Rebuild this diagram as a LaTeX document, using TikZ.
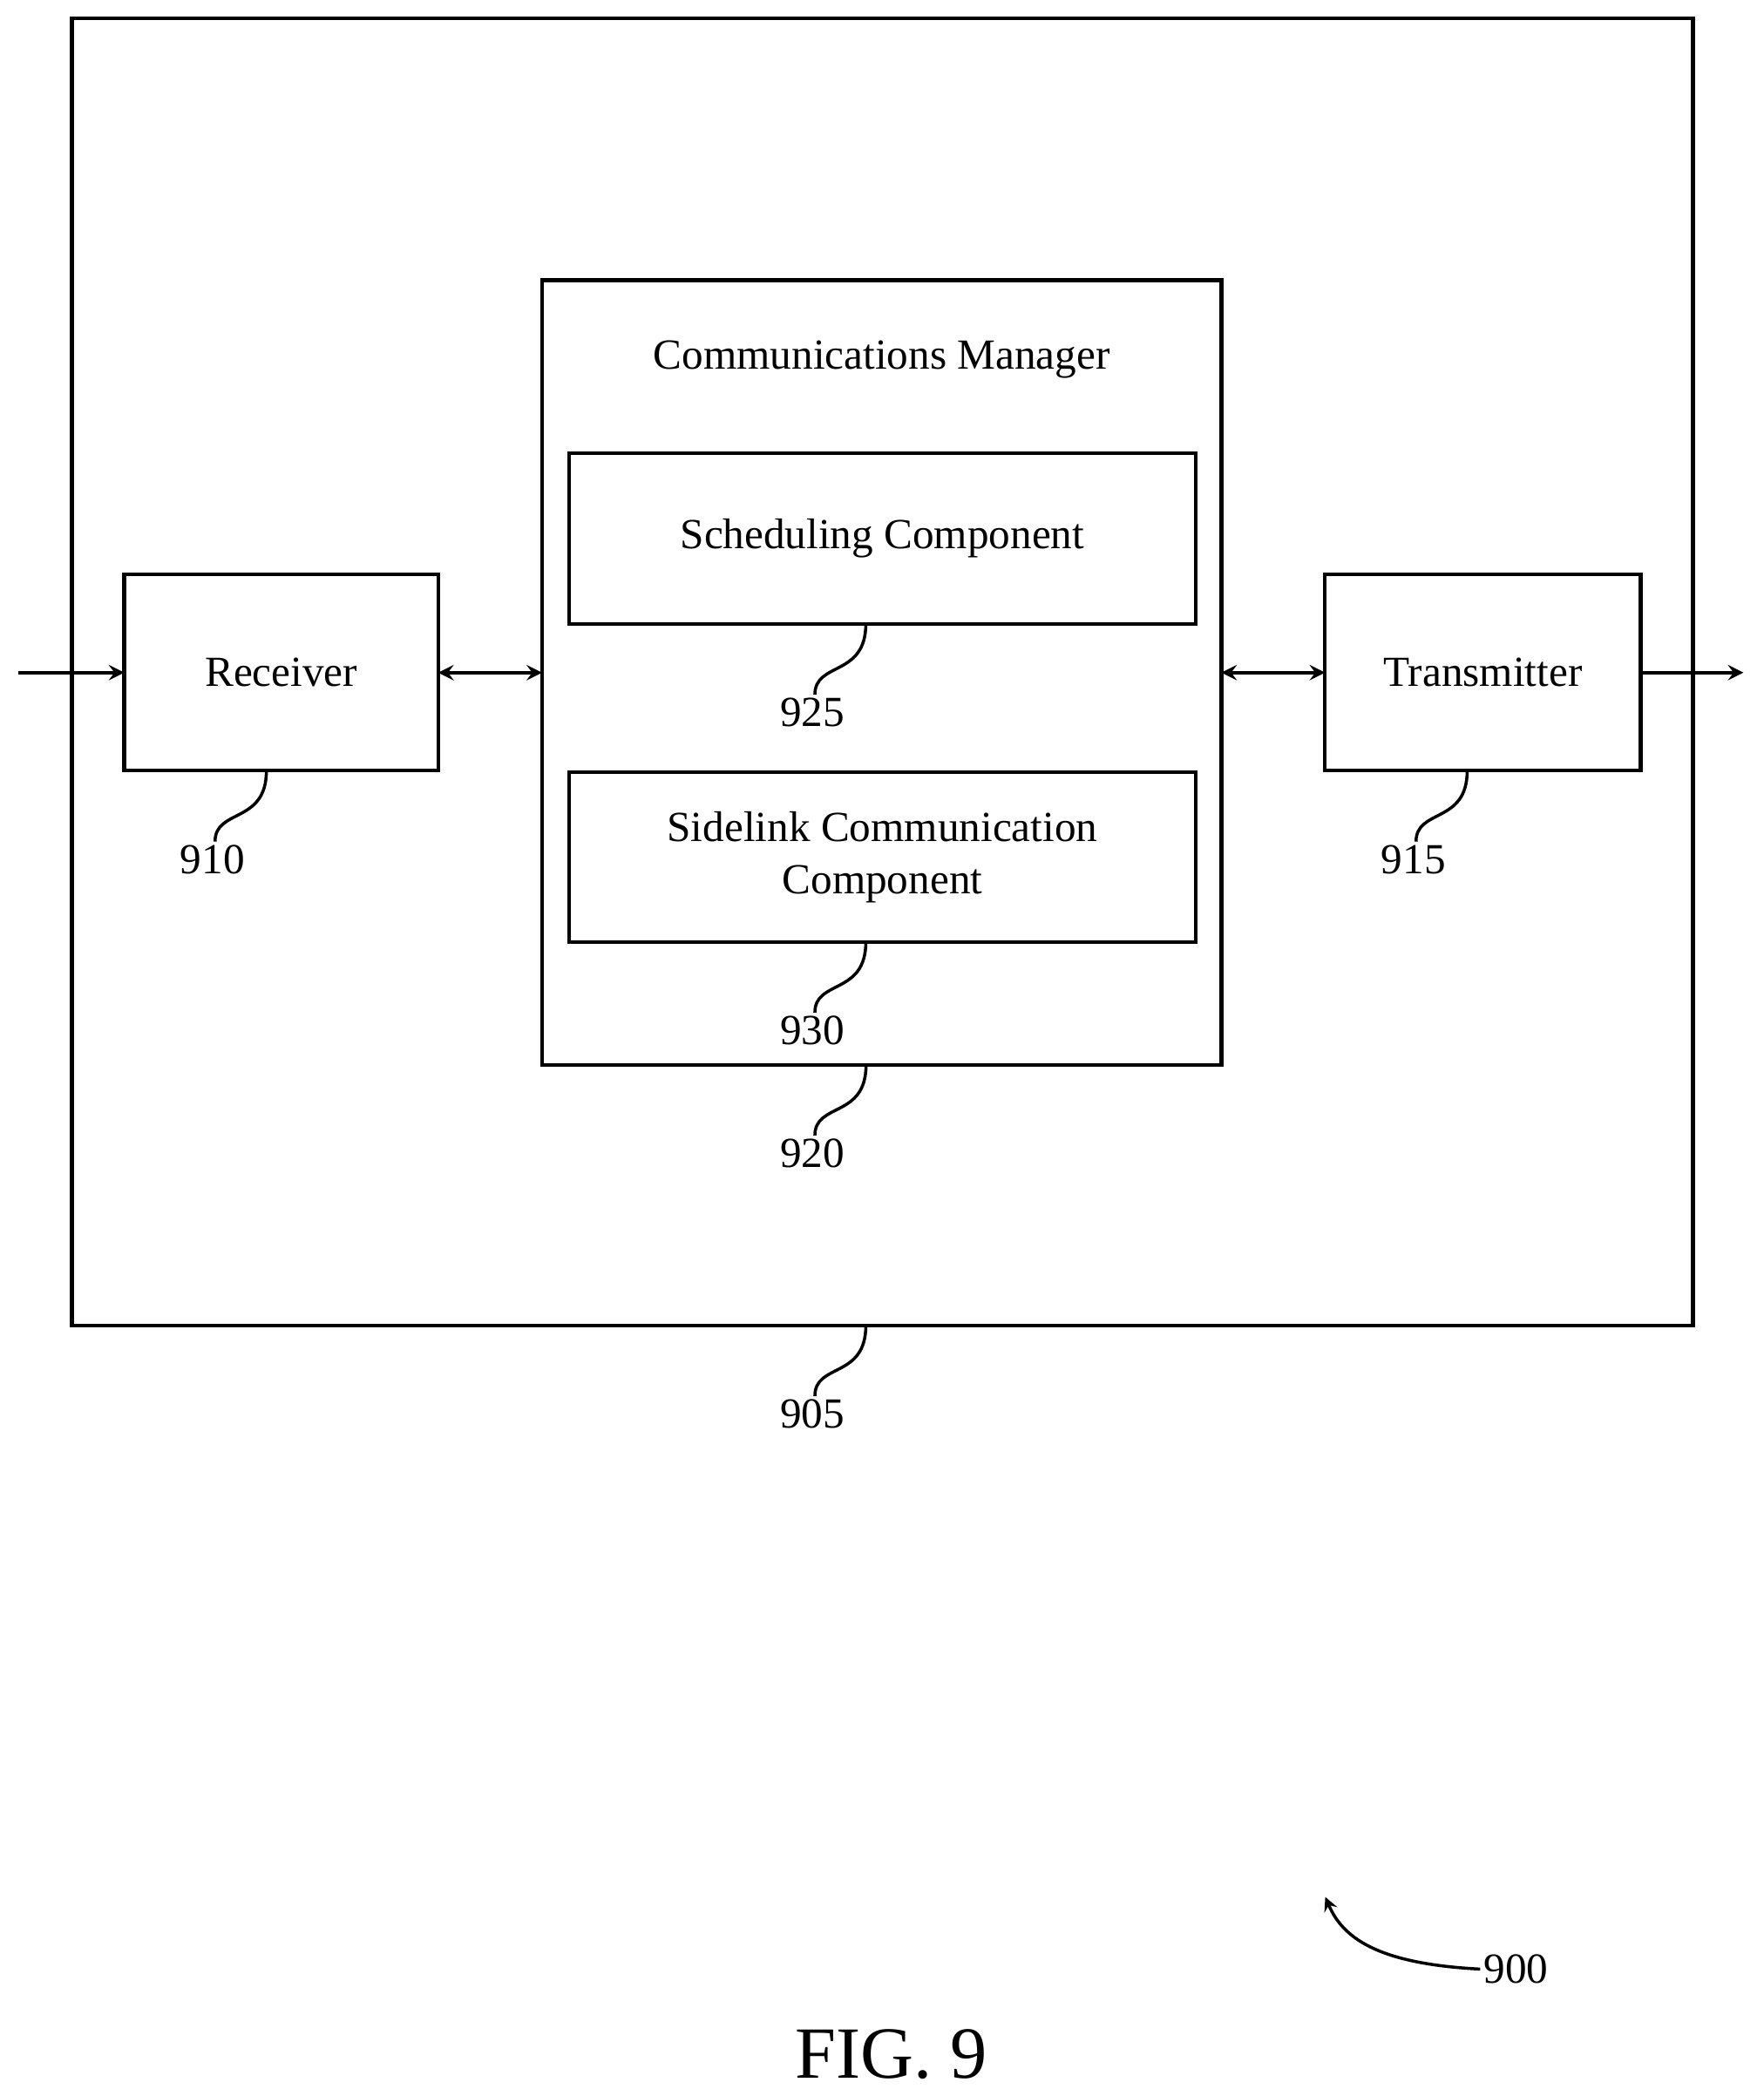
\documentclass[tikz,border=0pt]{standalone}
\usepackage{fontspec}
\setmainfont{Liberation Serif}
\usetikzlibrary{arrows, positioning}

\begin{document}
\begin{tikzpicture}[
    x=0.015326cm, y=-0.015326cm,
    % Define styles
    block/.style={rectangle, draw, line width=1.2pt, outer sep=0pt, align=center, font=\fontsize{14}{17}\selectfont},
    arrow/.style={->, >=stealth, line width=1.2pt},
    darrow/.style={<->, >=stealth, line width=1.2pt},
    leader/.style={line width=1pt},
    refnum/.style={font=\fontsize{14}{17}\selectfont, inner sep=1pt}
  ]
  \useasboundingbox (0,0) rectangle (1320,1569);

  % Device
  \node[block, minimum width=18.59cm, minimum height=14.99cm] (device) at (660.5,503) {};

  % Receiver and transmitter
  \node[block, minimum width=3.60cm, minimum height=2.25cm] (rx) at (210.5,503.5) {Receiver};
  \node[block, minimum width=3.62cm, minimum height=2.25cm] (tx) at (1110,503.5) {Transmitter};

  % Communications manager
  \node[block, minimum width=7.79cm, minimum height=9.00cm] (mgr) at (660,503.5) {};
  \node[font=\fontsize{14}{17}\selectfont] (mgrtitle) at (660,269) {Communications Manager};
  \node[block, minimum width=7.19cm, minimum height=1.96cm] (sched) at (660.5,403) {Scheduling Component};
  \node[block, minimum width=7.19cm, minimum height=1.95cm] (side) at (660.5,641.5) {Sidelink Communication\\Component};

  % Signal flow
  \coordinate (in) at (14,503.5);
  \coordinate (out) at (1305,503.5);
  \draw[arrow] (in) -- (rx.west);
  \draw[darrow] (rx.east) -- (mgr.west |- rx.east);
  \draw[darrow] (mgr.east |- tx.west) -- (tx.west);
  \draw[arrow] (tx.east) -- (out);

  % Reference numerals
  \node[refnum, anchor=north] (n910) at (159,630) {910};
  \node[refnum, anchor=north] (n915) at (1058,630) {915};
  \node[refnum, anchor=north] (n925) at (608,520) {925};
  \node[refnum, anchor=north] (n930) at (608,758) {930};
  \node[refnum, anchor=north] (n920) at (608,850) {920};
  \node[refnum, anchor=north] (n905) at (608,1045) {905};
  \draw[leader] ([xshift=-0.17cm]rx.south) .. controls +(0,40) and +(0,-25) .. ([xshift=0.03cm]n910.north);
  \draw[leader] ([xshift=-0.18cm]tx.south) .. controls +(0,40) and +(0,-25) .. ([xshift=0.03cm]n915.north);
  \draw[leader] ([xshift=-0.19cm]sched.south) .. controls +(0,40) and +(0,-25) .. ([xshift=0.03cm]n925.north);
  \draw[leader] ([xshift=-0.19cm]side.south) .. controls +(0,40) and +(0,-25) .. ([xshift=0.03cm]n930.north);
  \draw[leader] ([xshift=-0.18cm]mgr.south) .. controls +(0,40) and +(0,-25) .. ([xshift=0.03cm]n920.north);
  \draw[leader] ([xshift=-0.19cm]device.south) .. controls +(0,40) and +(0,-25) .. ([xshift=0.03cm]n905.north);

  % Figure number
  \node[refnum, anchor=west] (n900) at (1108,1474) {900};
  \coordinate (tip900) at (992,1420);
  \draw[arrow, line width=1pt] (n900.west) .. controls (1030,1470) and (1005,1450) .. (tip900);
  \node[font=\fontsize{24}{28}\selectfont] (fig) at (667,1538) {FIG. 9};

\end{tikzpicture}
\end{document}
